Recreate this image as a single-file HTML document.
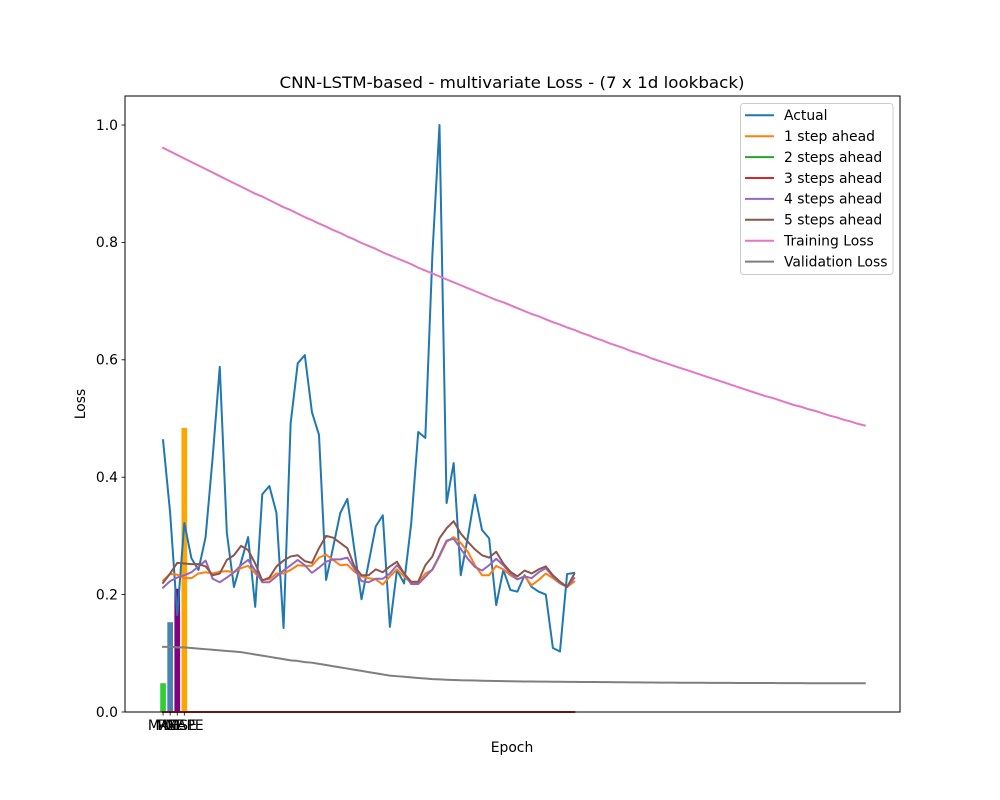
<!DOCTYPE html>
<html><head><meta charset="utf-8"><style>
body{margin:0;background:#fff}
svg{display:block;font-family:"DejaVu Sans","Liberation Sans",sans-serif}
</style></head><body>
<svg id="chart" width="1000" height="800" viewBox="0 0 1000 800" xmlns="http://www.w3.org/2000/svg">
<rect width="1000" height="800" fill="#fff"/>
<text x="512" y="88" font-size="16.2" text-anchor="middle" textLength="465" lengthAdjust="spacingAndGlyphs">CNN-LSTM-based - multivariate Loss - (7 x 1d lookback)</text>
<text x="512" y="752" font-size="13.9" text-anchor="middle">Epoch</text>
<text x="0" y="0" font-size="13.9" text-anchor="middle" transform="translate(85,404) rotate(-90)">Loss</text>
<g id="bars"></g>
<g id="lines"></g>
<rect x="125" y="96" width="775" height="616" fill="none" stroke="#000" stroke-width="1"/>
<g id="yticks"></g>
<g id="xticks"></g>
<g id="legend"></g>
</svg>
<script>
const barLabels = ["MAE","MSE","RMSE","MAPE"];
const barValues = [0.049, 0.153, 0.210, 0.484];
const barColors = ["#32cd32","#4682b4","#800080","#ffa500"];
const yTicks = [0.0,0.2,0.4,0.6,0.8,1.0];
const yTickLabels = ["0.0","0.2","0.4","0.6","0.8","1.0"];
const actual = [.463,.339,.165,.322,.262,.242,.298,.434,.588,.305,.213,.255,.298,.179,.371,.385,.339,.143,.492,.594,.608,.511,.472,.225,.281,.339,.363,.276,.192,.254,.316,.335,.145,.242,.219,.32,.477,.467,.78,1.0,.356,.424,.233,.298,.37,.31,.296,.182,.242,.208,.205,.233,.213,.205,.2,.109,.103,.235,.237];
const step1 = [.224,.235,.234,.228,.228,.236,.238,.236,.239,.240,.238,.245,.249,.236,.225,.226,.236,.236,.242,.250,.249,.249,.263,.268,.259,.25,.251,.239,.231,.228,.226,.217,.231,.243,.231,.22,.22,.236,.242,.265,.29,.298,.288,.273,.25,.233,.233,.249,.243,.233,.226,.231,.216,.225,.236,.228,.219,.213,.222];
const step2 = [0,0,0,0,0,0,0,0,0,0,0,0,0,0,0,0,0,0,0,0,0,0,0,0,0,0,0,0,0,0,0,0,0,0,0,0,0,0,0,0,0,0,0,0,0,0,0,0,0,0,0,0,0,0,0,0,0,0,0];
const step3 = [0,0,0,0,0,0,0,0,0,0,0,0,0,0,0,0,0,0,0,0,0,0,0,0,0,0,0,0,0,0,0,0,0,0,0,0,0,0,0,0,0,0,0,0,0,0,0,0,0,0,0,0,0,0,0,0,0,0,0];
const step4 = [.212,.223,.229,.233,.238,.248,.258,.227,.221,.229,.238,.25,.259,.241,.221,.221,.231,.241,.25,.259,.25,.237,.246,.256,.26,.26,.263,.244,.223,.221,.227,.227,.236,.25,.236,.218,.218,.23,.243,.267,.292,.295,.278,.261,.247,.241,.25,.261,.25,.236,.226,.231,.228,.238,.245,.231,.22,.213,.228];
const step5 = [.220,.236,.254,.253,.252,.252,.248,.233,.236,.259,.267,.283,.276,.253,.224,.229,.248,.258,.265,.267,.257,.254,.279,.300,.297,.288,.279,.248,.233,.233,.243,.238,.248,.256,.236,.222,.222,.25,.265,.296,.313,.325,.304,.29,.277,.267,.263,.273,.253,.239,.231,.241,.236,.243,.248,.233,.222,.213,.235];
const trainLoss = [.961,.955,.949,.943,.937,.931,.925,.919,.913,.907,.901,.895,.889,.883,.878,.872,.866,.860,.855,.849,.843,.838,.832,.827,.821,.816,.810,.805,.799,.794,.789,.783,.778,.773,.768,.763,.757,.752,.747,.742,.737,.732,.727,.722,.717,.712,.707,.702,.698,.693,.688,.683,.678,.674,.669,.664,.660,.655,.651,.646,.642,.637,.633,.628,.624,.620,.615,.611,.607,.602,.598,.594,.590,.586,.582,.578,.574,.570,.566,.562,.558,.554,.550,.546,.542,.538,.535,.531,.527,.523,.520,.516,.513,.509,.505,.502,.498,.495,.491,.488];
const valLoss = [.111,.111,.110,.110,.109,.108,.107,.106,.105,.104,.103,.102,.100,.098,.096,.094,.092,.090,.088,.087,.085,.084,.082,.080,.078,.076,.074,.072,.070,.068,.066,.064,.062,.061,.060,.059,.058,.057,.056,.0555,.055,.0545,.054,.0538,.0536,.0533,.053,.0528,.0526,.0524,.0522,.052,.0519,.0518,.0517,.0516,.0515,.0514,.0513,.0512,.0511,.051,.0509,.0508,.0507,.0506,.0505,.0504,.0503,.0502,.0501,.050,.050,.0499,.0499,.0498,.0498,.0497,.0497,.0496,.0496,.0495,.0495,.0494,.0494,.0493,.0493,.0492,.0492,.0491,.0491,.049,.049,.049,.049,.049,.049,.049,.049,.049];
const seriesNames = ["Actual","1 step ahead","2 steps ahead","3 steps ahead","4 steps ahead","5 steps ahead","Training Loss","Validation Loss"];
const seriesColors = ["#1f77b4","#ff7f0e","#2ca02c","#d62728","#9467bd","#8c564b","#e377c2","#7f7f7f"];

const NS="http://www.w3.org/2000/svg";
const X0=125,X1=900,Y0=712,Y1=96,XMIN=-5.37,XMAX=103.97,YMIN=0,YMAX=1.0494;
function sx(v){return X0+(v-XMIN)/(XMAX-XMIN)*(X1-X0);}
function sy(v){return Y0-(v-YMIN)/(YMAX-YMIN)*(Y0-Y1);}
function mk(tag,attrs,parent){const e=document.createElementNS(NS,tag);for(const k in attrs)e.setAttribute(k,attrs[k]);parent.appendChild(e);return e;}

const gb=document.getElementById('bars');
barValues.forEach((v,i)=>{
  const r=mk('rect',{x:sx(i-0.4),y:sy(v),width:sx(0.4)-sx(-0.4),height:sy(0)-sy(v),fill:barColors[i]},gb);
  
  
});

const gl=document.getElementById('lines');
const allSeries=[actual,step1,step2,step3,step4,step5,trainLoss,valLoss];
allSeries.forEach((s,k)=>{
  const pts=s.map((v,i)=>sx(i).toFixed(2)+','+sy(v).toFixed(2)).join(' ');
  const p=mk('polyline',{points:pts,fill:'none',stroke:seriesColors[k],'stroke-width':2,'stroke-linejoin':'round','stroke-linecap':'square'},gl);
  
  
});

const gy=document.getElementById('yticks');
yTicks.forEach((v,i)=>{
  const y=sy(v);
  mk('line',{x1:X0-3.5,x2:X0,y1:y,y2:y,stroke:'#000','stroke-width':0.8},gy);
  const t=mk('text',{x:X0-7,y:y+4.8,'font-size':13.9,'text-anchor':'end'},gy);
  t.textContent=yTickLabels[i];
  
  
});
const gx=document.getElementById('xticks');
barLabels.forEach((lab,i)=>{
  const x=sx(i);
  mk('line',{x1:x,x2:x,y1:Y0,y2:Y0+3.5,stroke:'#000','stroke-width':0.8},gx);
  const t=mk('text',{x:x,y:Y0+18,'font-size':13.9,'text-anchor':'middle'},gx);
  t.textContent=lab;
  
  
});

const lg=document.getElementById('legend');


mk('rect',{x:740.5,y:103.5,width:152.5,height:171,rx:3,fill:'#fff','fill-opacity':0.8,stroke:'#ccc','stroke-width':1},lg);
seriesNames.forEach((n,k)=>{
  const y=115.3+k*20.9;
  const g=mk('g',{},lg);
  
  
  mk('line',{x1:745,x2:774,y1:y,y2:y,stroke:seriesColors[k],'stroke-width':2},g);
  const t=mk('text',{x:784,y:y+4.8,'font-size':13.9},g);
  t.textContent=n;
});
</script>
</body></html>
